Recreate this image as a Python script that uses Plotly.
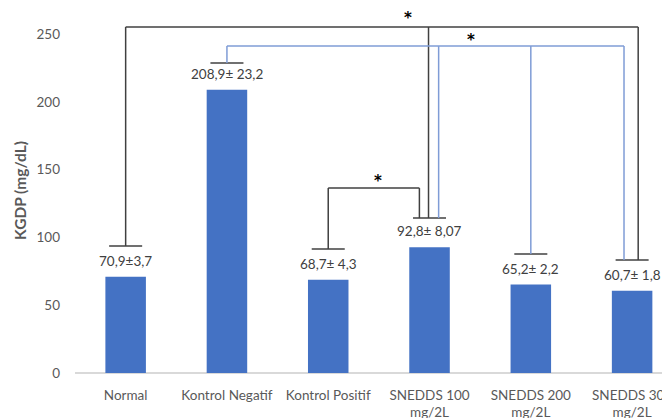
import plotly.graph_objects as go

categories = ["Normal", "Kontrol Negatif", "Kontrol Positif",
              "SNEDDS 100<br>mg/2L", "SNEDDS 200<br>mg/2L", "SNEDDS 300<br>mg/2L"]
means = [70.9, 208.9, 68.7, 92.8, 65.2, 60.7]
value_labels = ["70,9±3,7", "208,9± 23,2", "68,7± 4,3", "92,8± 8,07", "65,2± 2,2", "60,7± 1,8"]
cap_heights = [93.7, 228.6, 91.4, 114.3, 87.8, 83.3]

# significance brackets: level, color, legs (category index, offset)
bracket_levels = [255.2, 241.1, 136.4]
bracket_colors = ["#404040", "#7F9CD6", "#404040"]
bracket_legs = [
    [(0, 0.0), (3, -0.01), (5, 0.06)],
    [(1, 0.0), (3, 0.09), (4, 0.0), (5, -0.08)],
    [(2, 0.0), (3, -0.10)],
]
star_pos = [(2.79, 264.0), (3.41, 247.8), (2.49, 143.8)]

x = list(range(len(categories)))
FONT = "Lato, sans-serif"

fig = go.Figure()
fig.add_trace(go.Bar(x=x, y=means, width=0.4, marker=dict(color="#4472C4", line=dict(width=0)),
                     hoverinfo="skip"))

shapes = []
cap_half = 0.163
for i, h in enumerate(cap_heights):
    shapes.append(dict(type="line", xref="x", yref="y", x0=i - cap_half, x1=i + cap_half,
                       y0=h, y1=h, line=dict(color="#404040", width=1.5)))
for lvl, col, legs in zip(bracket_levels, bracket_colors, bracket_legs):
    xs = [c + o for c, o in legs]
    shapes.append(dict(type="line", xref="x", yref="y", x0=min(xs), x1=max(xs), y0=lvl, y1=lvl,
                       line=dict(color=col, width=1.5)))
    for c, o in legs:
        shapes.append(dict(type="line", xref="x", yref="y", x0=c + o, x1=c + o,
                           y0=cap_heights[c], y1=lvl, line=dict(color=col, width=1.5)))

annotations = []
for i, (m, t) in enumerate(zip(means, value_labels)):
    annotations.append(dict(x=i, y=m, xref="x", yref="y", text=t, showarrow=False,
                            yanchor="bottom", yshift=6,
                            font=dict(family=FONT, size=13.5, color="#404040")))
for sx, sy in star_pos:
    annotations.append(dict(x=sx, y=sy, xref="x", yref="y", text="<b>*</b>", showarrow=False,
                            yanchor="middle", yshift=-3,
                            font=dict(family="DejaVu Sans", size=15, color="#000000")))

fig.update_layout(
    width=662, height=410,
    margin=dict(l=67, r=0, t=0, b=45),
    paper_bgcolor="white", plot_bgcolor="white",
    showlegend=False,
    shapes=shapes, annotations=annotations,
    xaxis=dict(range=[-0.5, 5.374], tickmode="array", tickvals=x, ticktext=categories,
               showgrid=False, zeroline=False, showline=False, ticks="", automargin=False,
               ticklabeloverflow="allow", ticklabelstandoff=12,
               tickfont=dict(family=FONT, size=13.5, color="#595959")),
    yaxis=dict(range=[0, 269.2], tickvals=[0, 50, 100, 150, 200, 250],
               showgrid=False, zeroline=True, zerolinecolor="#D9D9D9", zerolinewidth=1.5,
               showline=False, ticks="", ticklabelstandoff=14, automargin=False,
               tickfont=dict(family=FONT, size=13.5, color="#595959"),
               title=dict(text="<b>KGDP (mg/dL)</b>", standoff=6,
                          font=dict(family=FONT, size=15.5, color="#595959"))),
)

fig.write_html("out.html")
